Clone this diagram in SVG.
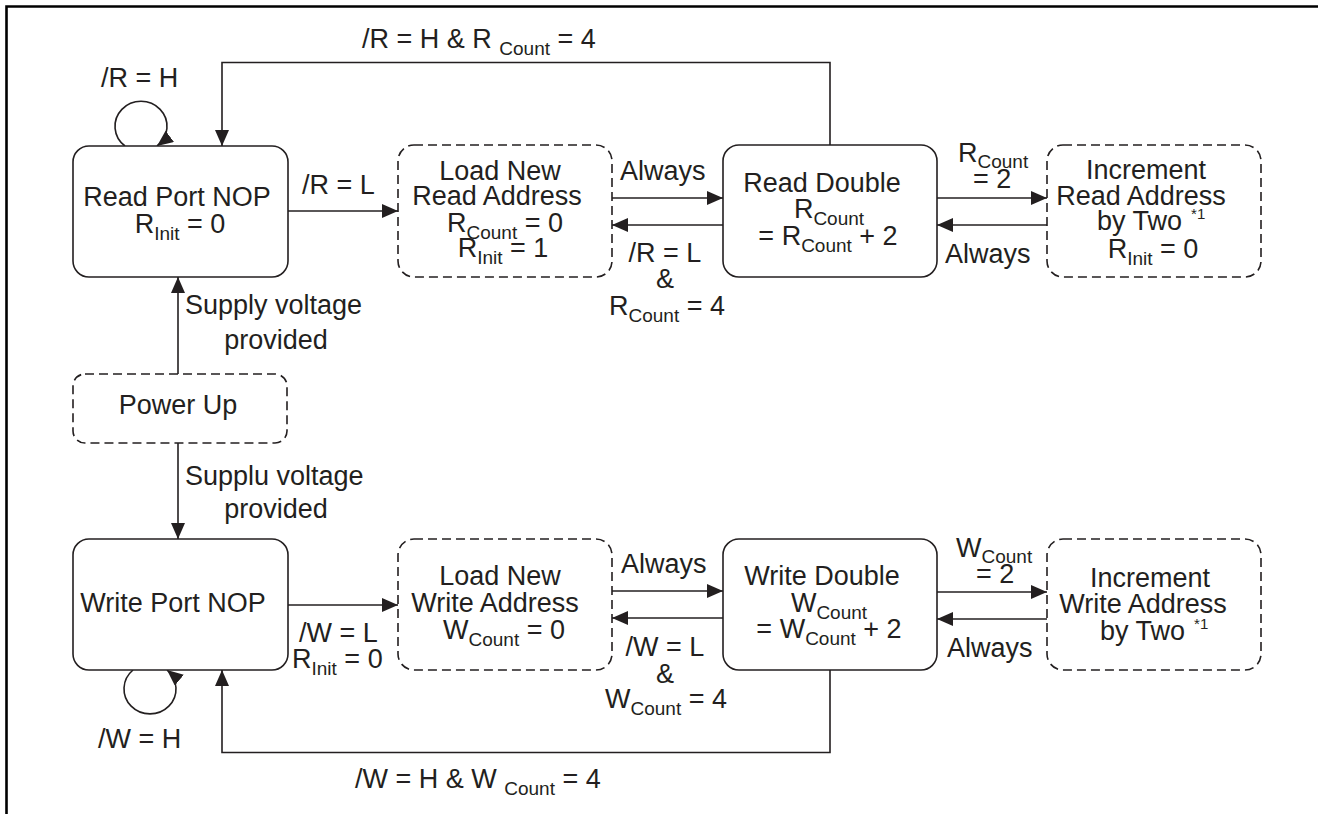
<svg xmlns="http://www.w3.org/2000/svg" width="1318" height="814" viewBox="0 0 1318 814">
<style>
text{font-family:"Liberation Sans",Arial,sans-serif;font-size:27px;fill:#231f20}
.m{text-anchor:middle}
.sub{font-size:19px}
.sup{font-size:15px}
.box{fill:#fff;stroke:#231f20;stroke-width:1.6}
.dash{stroke-dasharray:9 5}
.ln{fill:none;stroke:#231f20;stroke-width:1.6}
.arr{marker-end:url(#ah)}
</style>
<defs>
<marker id="ah" markerUnits="userSpaceOnUse" markerWidth="17" markerHeight="15" refX="16" refY="7" orient="auto">
<path d="M0,0 L16,7 L0,14 z" fill="#231f20"/>
</marker>
</defs>
<rect width="1318" height="814" fill="#fff"/>
<g id="frame">
<path d="M6.5,814 V6.5 H1318" fill="none" stroke="#000" stroke-width="2.6"/>
</g>
<g id="connectors">
<path class="ln arr" d="M125,146 A26,25 0 1 1 157,146"/>
<path class="ln arr" d="M830,145 V62.5 H222 V146"/>
<path class="ln arr" d="M288,211 H398"/>
<path class="ln arr" d="M612,198 H723"/>
<path class="ln arr" d="M723,225 H612"/>
<path class="ln arr" d="M937,198 H1047"/>
<path class="ln arr" d="M1047,225 H937"/>
<path class="ln arr" d="M178,374 V277"/>
<path class="ln arr" d="M178,443 V539"/>
<path class="ln arr" d="M288,605 H398"/>
<path class="ln arr" d="M612,591 H723"/>
<path class="ln arr" d="M723,618 H612"/>
<path class="ln arr" d="M937,592 H1047"/>
<path class="ln arr" d="M1047,619 H937"/>
<path class="ln arr" d="M133,670 A26,25 0 1 0 167,670"/>
<path class="ln arr" d="M830,670 V752.5 H222 V670"/>
</g>
<g id="labels">
<text x="101" y="87">/R = H</text>
<text x="362" y="48">/R = H &amp; R <tspan class="sub" dy="7">Count</tspan><tspan dy="-7"> = 4</tspan></text>
<text x="302" y="194">/R = L</text>
<text x="620" y="180">Always</text>
<text class="m" x="665" y="262">/R = L</text>
<text class="m" x="665" y="288">&amp;</text>
<text x="609" y="315">R<tspan class="sub" dy="7">Count</tspan><tspan dy="-7"> = 4</tspan></text>
<text x="958" y="162">R<tspan class="sub" dy="6">Count</tspan></text>
<text x="973" y="188">= 2</text>
<text x="945" y="263">Always</text>
<text x="185" y="314">Supply voltage</text>
<text class="m" x="276" y="349">provided</text>
<text x="185" y="485">Supplu voltage</text>
<text class="m" x="276" y="518">provided</text>
<text x="299" y="642">/W = L</text>
<text x="292" y="668">R<tspan class="sub" dy="7">Init</tspan><tspan dy="-7"> = 0</tspan></text>
<text x="621" y="573">Always</text>
<text class="m" x="665" y="656">/W = L</text>
<text class="m" x="665" y="683">&amp;</text>
<text x="605" y="708">W<tspan class="sub" dy="7">Count</tspan><tspan dy="-7"> = 4</tspan></text>
<text x="956" y="557">W<tspan class="sub" dy="6">Count</tspan></text>
<text x="976" y="583">= 2</text>
<text x="947" y="657">Always</text>
<text x="98" y="748">/W = H</text>
<text x="355" y="788">/W = H &amp; W <tspan class="sub" dy="7">Count</tspan><tspan dy="-7"> = 4</tspan></text>
</g>
<g id="read-port-nop">
<rect class="box" x="73" y="146" width="215" height="131" rx="16"/>
<text class="m" x="177" y="206">Read Port NOP</text>
<text class="m" x="180" y="233">R<tspan class="sub" dy="7">Init</tspan><tspan dy="-7"> = 0</tspan></text>
</g>
<g id="load-new-read-address">
<rect class="box dash" x="398" y="145" width="214" height="132" rx="16"/>
<text class="m" x="500" y="180">Load New</text>
<text class="m" x="497" y="205">Read Address</text>
<text class="m" x="505" y="232">R<tspan class="sub" dy="7">Count</tspan><tspan dy="-7"> = 0</tspan></text>
<text class="m" x="503" y="257">R<tspan class="sub" dy="7">Init</tspan><tspan dy="-7"> = 1</tspan></text>
</g>
<g id="read-double">
<rect class="box" x="723" y="145" width="214" height="132" rx="16"/>
<text class="m" x="822" y="192">Read Double</text>
<text class="m" x="829" y="218">R<tspan class="sub" dy="7">Count</tspan></text>
<text class="m" x="828" y="245">= R<tspan class="sub" dy="7">Count</tspan><tspan dy="-7"> + 2</tspan></text>
</g>
<g id="increment-read-address">
<rect class="box dash" x="1047" y="145" width="214" height="132" rx="16"/>
<text class="m" x="1146" y="179">Increment</text>
<text class="m" x="1141" y="205">Read Address</text>
<text x="1097" y="230">by Two<tspan class="sup" dx="9" dy="-11">*1</tspan></text>
<text class="m" x="1153" y="258">R<tspan class="sub" dy="7">Init</tspan><tspan dy="-7"> = 0</tspan></text>
</g>
<g id="power-up">
<rect class="box dash" x="73" y="374" width="214" height="69" rx="12"/>
<text class="m" x="178" y="414">Power Up</text>
</g>
<g id="write-port-nop">
<rect class="box" x="73" y="539" width="215" height="131" rx="16"/>
<text class="m" x="173" y="612">Write Port NOP</text>
</g>
<g id="load-new-write-address">
<rect class="box dash" x="398" y="539" width="214" height="131" rx="16"/>
<text class="m" x="500" y="585">Load New</text>
<text class="m" x="495" y="612">Write Address</text>
<text class="m" x="504" y="639">W<tspan class="sub" dy="7">Count</tspan><tspan dy="-7"> = 0</tspan></text>
</g>
<g id="write-double">
<rect class="box" x="723" y="539" width="214" height="131" rx="16"/>
<text class="m" x="822" y="585">Write Double</text>
<text class="m" x="829" y="612">W<tspan class="sub" dy="7">Count</tspan></text>
<text class="m" x="829" y="638">= W<tspan class="sub" dy="7">Count</tspan><tspan dy="-7"> + 2</tspan></text>
</g>
<g id="increment-write-address">
<rect class="box dash" x="1047" y="539" width="214" height="131" rx="16"/>
<text class="m" x="1150" y="587">Increment</text>
<text class="m" x="1143" y="613">Write Address</text>
<text x="1100" y="640">by Two<tspan class="sup" dx="9" dy="-11">*1</tspan></text>
</g>
</svg>
